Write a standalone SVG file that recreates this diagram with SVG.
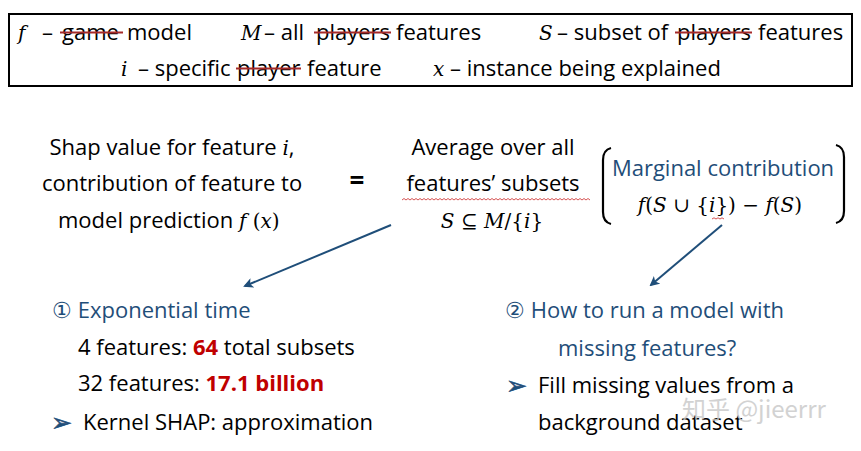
<svg xmlns="http://www.w3.org/2000/svg" width="861" height="451" viewBox="0 0 861 451">
<defs>
<style>
.t{font-family:"Open Sans","Noto Sans","Liberation Sans",sans-serif;font-size:22px;fill:#000}
.m{font-family:"DejaVu Serif","Liberation Serif",serif;font-style:italic;font-size:20px;fill:#000}
.mu{font-family:"DejaVu Serif","Liberation Serif",serif;font-style:normal;font-size:20px;fill:#000}
.b{fill:#1F4E79}
.r{fill:#C00000;font-weight:bold}
.st{stroke:#A52A2A;stroke-width:2;fill:none}
.wav{stroke:#D04040;stroke-width:0.9;fill:none}
.conn{stroke:#1F4E79;stroke-width:2;fill:none;marker-end:url(#ah)}
.br{stroke:#000;stroke-width:2.2;fill:none}
.bul{font-family:"DejaVu Sans",sans-serif;font-size:25px;fill:#1F4E79;stroke:#1F4E79;stroke-width:0.6}
</style>
<marker id="ah" viewBox="0 0 10 10" refX="8" refY="5" markerWidth="5" markerHeight="5" orient="auto" markerUnits="strokeWidth">
<path d="M0,0 L10,5 L0,10 L2.5,5 Z" fill="#1F4E79"/>
</marker>
</defs>
<rect width="861" height="451" fill="#fff"/>

<g id="legend">
<rect x="9" y="14" width="843" height="72" fill="none" stroke="#000" stroke-width="2"/>
<text class="m" x="18" y="40">f</text>
<text class="t" x="42" y="40">–</text>
<text class="t" x="62" y="40">game</text>
<line class="st" x1="60" y1="32.5" x2="123" y2="32.5"/>
<text class="t" x="127" y="40">model</text>
<text class="m" x="241" y="40">M</text>
<text class="t" x="264" y="40">– all</text>
<text class="t" x="316" y="40">players</text>
<line class="st" x1="314" y1="32.5" x2="391" y2="32.5"/>
<text class="t" x="396" y="40">features</text>
<text class="m" x="539" y="40">S</text>
<text class="t" x="557" y="40">– subset of</text>
<text class="t" x="677" y="40">players</text>
<line class="st" x1="675" y1="32.5" x2="752" y2="32.5"/>
<text class="t" x="758" y="40">features</text>
<text class="m" x="121" y="76">i</text>
<text class="t" x="138" y="76">– specific</text>
<text class="t" x="237" y="76">player</text>
<line class="st" x1="236" y1="68.5" x2="301" y2="68.5"/>
<text class="t" x="307" y="76">feature</text>
<text class="m" x="433" y="76">x</text>
<text class="t" x="450" y="76">– instance being explained</text>
</g>

<g id="shap-value">
<text class="t" x="172" y="155" text-anchor="middle">Shap value for feature <tspan class="m">i</tspan>,</text>
<text class="t" x="172" y="191" text-anchor="middle">contribution of feature to</text>
<text class="t" x="58" y="228">model prediction <tspan class="m">f</tspan><tspan class="mu"> (</tspan><tspan class="m">x</tspan><tspan class="mu">)</tspan></text>
</g>

<g id="equals">
<text class="t" x="357" y="190" text-anchor="middle" style="font-weight:bold;font-size:26px">=</text>
</g>

<g id="average">
<text class="t" x="493" y="155" text-anchor="middle">Average over all</text>
<text class="t" x="493" y="191" text-anchor="middle">features’  subsets</text>
<path class="wav" d="M402,200 l2,-1.5 l2,1.5 l2,-1.5 l2,1.5 l2,-1.5 l2,1.5 l2,-1.5 l2,1.5 l2,-1.5 l2,1.5 l2,-1.5 l2,1.5 l2,-1.5 l2,1.5 l2,-1.5 l2,1.5 l2,-1.5 l2,1.5 l2,-1.5 l2,1.5 l2,-1.5 l2,1.5 l2,-1.5 l2,1.5 l2,-1.5 l2,1.5 l2,-1.5 l2,1.5 l2,-1.5 l2,1.5 l2,-1.5 l2,1.5 l2,-1.5 l2,1.5 l2,-1.5 l2,1.5 l2,-1.5 l2,1.5 l2,-1.5 l2,1.5 l2,-1.5 l2,1.5 l2,-1.5 l2,1.5 l2,-1.5 l2,1.5 l2,-1.5 l2,1.5 l2,-1.5 l2,1.5 l2,-1.5 l2,1.5 l2,-1.5 l2,1.5 l2,-1.5 l2,1.5 l2,-1.5 l2,1.5 l2,-1.5 l2,1.5 l2,-1.5 l2,1.5 l2,-1.5 l2,1.5 l2,-1.5 l2,1.5 l2,-1.5 l2,1.5 l2,-1.5 l2,1.5 l2,-1.5 l2,1.5 l2,-1.5 l2,1.5 l2,-1.5 l2,1.5 l2,-1.5 l2,1.5 l2,-1.5 l2,1.5 l2,-1.5 l2,1.5 l2,-1.5 l2,1.5 l2,-1.5 l2,1.5 l2,-1.5 l2,1.5 l2,-1.5 l2,1.5 l2,-1.5 l2,1.5 l2,-1.5 l2,1.5"/>
<text class="m" x="492" y="228" text-anchor="middle">S <tspan class="mu">⊆ </tspan>M<tspan class="mu">/{</tspan>i<tspan class="mu">}</tspan></text>
</g>

<g id="marginal">
<path class="br" d="M611,148 Q603,150 603,160 L603,212 Q603,222 611,224"/>
<path class="br" d="M836,145 Q844,147 844,157 L844,211 Q844,221 836,223"/>
<text class="t b" x="723" y="176" text-anchor="middle">Marginal contribution</text>
<text class="m" x="720" y="212" text-anchor="middle">f<tspan class="mu">(</tspan>S <tspan class="mu">∪ {</tspan>i<tspan class="mu">}) − </tspan>f<tspan class="mu">(</tspan>S<tspan class="mu">)</tspan></text>
<path class="wav" d="M712,219 l2,-1.2 l2,1.2 l2,-1.2 l2,1.2 l2,-1.2 l2,1.2"/>
</g>

<g id="exponential">
<text class="t b" x="52" y="318">① Exponential time</text>
<text class="t" x="78" y="355">4 features: <tspan class="r">64</tspan> total subsets</text>
<text class="t" x="78" y="391">32 features: <tspan class="r">17.1 billion</tspan></text>
<text class="bul" x="51" y="431">➢</text>
<text class="t" x="83" y="430">Kernel SHAP: approximation</text>
</g>

<g id="missing">
<text class="t b" x="505" y="318">② How to run a model with</text>
<text class="t b" x="558" y="356">missing features?</text>
<text class="bul" x="506" y="394">➢</text>
<text class="t" x="538" y="393">Fill missing values from a</text>
<text class="t" x="538" y="430">background dataset</text>
</g>

<g id="connectors">
<line class="conn" x1="391" y1="225" x2="245" y2="286"/>
<line class="conn" x1="722" y1="225" x2="651" y2="285"/>
</g>

<text x="682" y="418" style="font-family:'Noto Sans CJK SC','Open Sans',sans-serif;font-size:24px;fill:#c8c8c8;opacity:0.8">知乎 @jieerrr</text>
</svg>
